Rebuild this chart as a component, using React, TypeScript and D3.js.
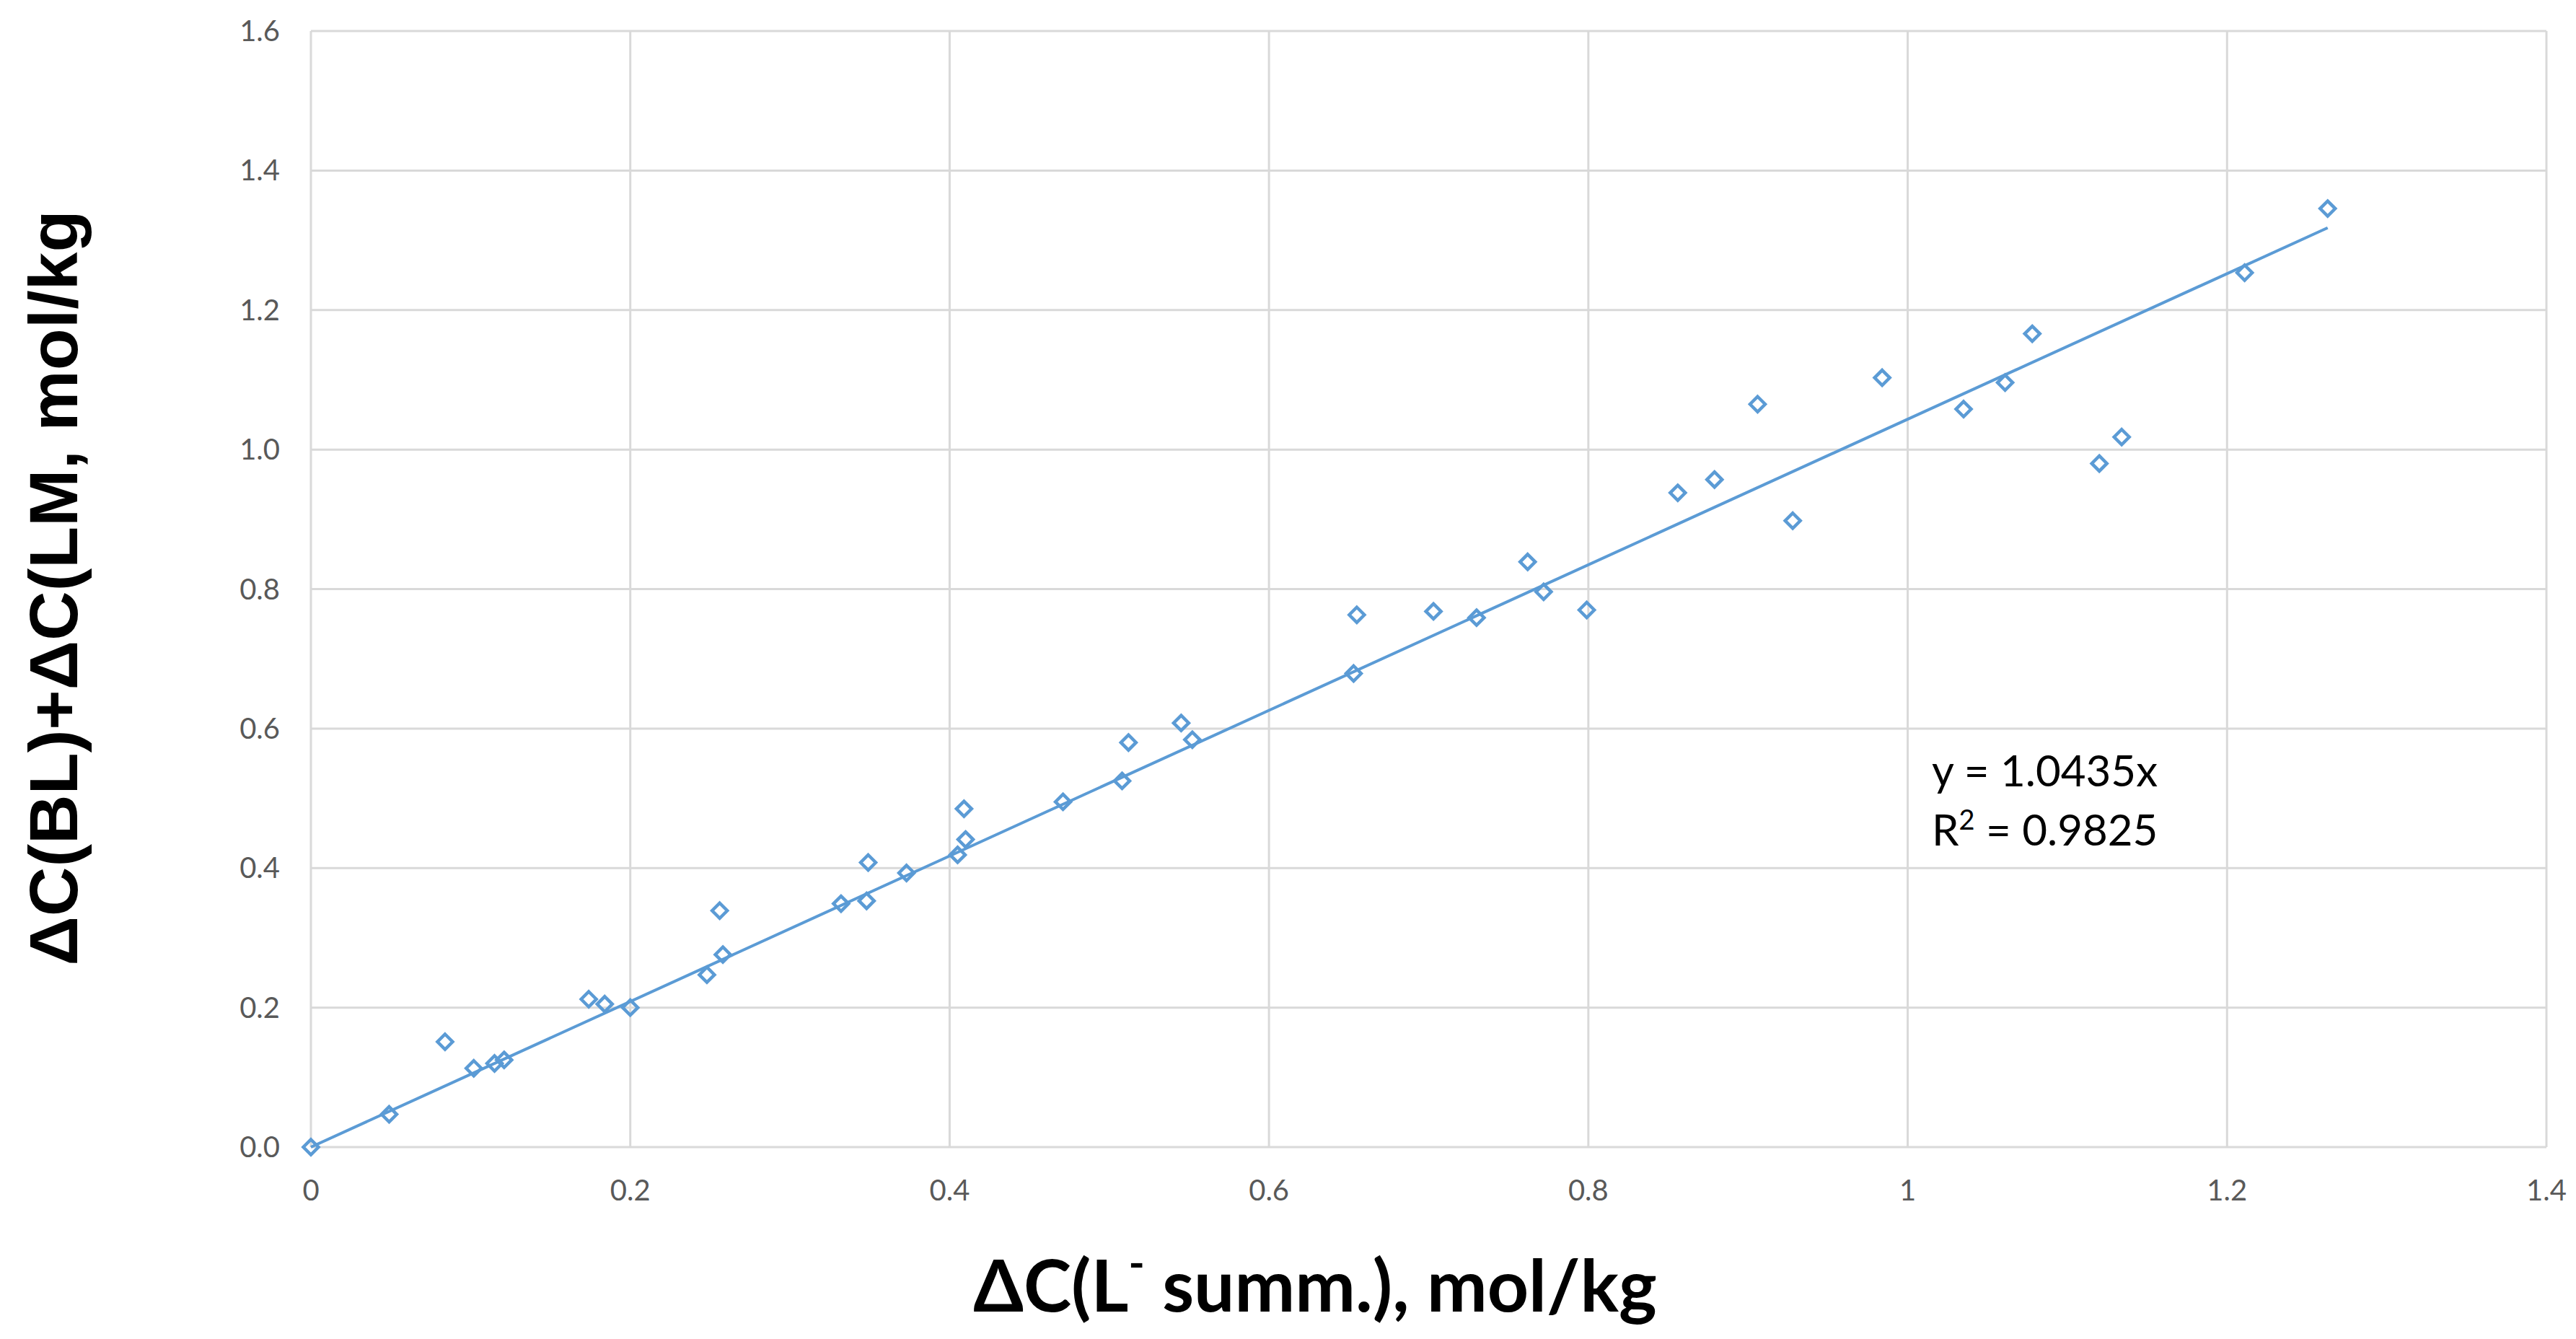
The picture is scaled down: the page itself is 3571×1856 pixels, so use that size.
import React from "react";
import * as d3 from "d3";

// ΔC(L- summ.) values, mol/kg
const xValues = [
  0, 0.049, 0.084, 0.102, 0.115, 0.121, 0.174, 0.184, 0.2, 0.248, 0.256, 0.258,
  0.332, 0.348, 0.349, 0.373, 0.405, 0.409, 0.41, 0.471, 0.508, 0.512, 0.545,
  0.552, 0.653, 0.655, 0.703, 0.73, 0.762, 0.772, 0.799, 0.856, 0.879, 0.906,
  0.928, 0.984, 1.035, 1.061, 1.078, 1.12, 1.134, 1.211, 1.263,
];
// ΔC(BL)+ΔC(LM) values, mol/kg
const yValues = [
  0, 0.047, 0.151, 0.113, 0.12, 0.125, 0.212, 0.205, 0.2, 0.247, 0.339, 0.276,
  0.349, 0.353, 0.408, 0.393, 0.419, 0.485, 0.441, 0.495, 0.525, 0.58, 0.608,
  0.584, 0.679, 0.763, 0.768, 0.759, 0.839, 0.796, 0.77, 0.938, 0.957, 1.065,
  0.898, 1.103, 1.058, 1.096, 1.166, 0.98, 1.018, 1.2535, 1.3455,
];
const slope = 1.0435;
const equationLabel = "y = 1.0435x";
const r2Label = "0.9825";

const xTicks = [0, 0.2, 0.4, 0.6, 0.8, 1, 1.2, 1.4];
const xTickLabels = ["0", "0.2", "0.4", "0.6", "0.8", "1", "1.2", "1.4"];
const yTicks = [0, 0.2, 0.4, 0.6, 0.8, 1.0, 1.2, 1.4, 1.6];
const yTickLabels = ["0.0", "0.2", "0.4", "0.6", "0.8", "1.0", "1.2", "1.4", "1.6"];

const BLUE = "#5B9BD5";
const GRID = "#D9D9D9";
const TICK = "#595959";
const FONT = "Lato, 'Open Sans', sans-serif";

export default function App() {
  const W = 3571;
  const H = 1856;
  const x = d3.scaleLinear().domain([0, 1.4]).range([431, 3530]);
  const y = d3.scaleLinear().domain([0, 1.6]).range([1590, 43]);
  const xMax = d3.max(xValues) as number;
  const trend = d3.line()([
    [x(0), y(0)],
    [x(xMax), y(slope * xMax)],
  ]) as string;
  const r = 10.5;
  const diamond = `M0,${-r}L${r},0L0,${r}L${-r},0Z`;

  return (
    <svg
      width={W}
      height={H}
      style={{ position: "absolute", left: 0, top: 0, background: "#fff" }}
    >
      <rect width={W} height={H} fill="#fff" />
      {/* grid */}
      {yTicks.map((t) => (
        <line key={"gy" + t} x1={x(0)} x2={x(1.4)} y1={y(t)} y2={y(t)} stroke={GRID} strokeWidth={3} />
      ))}
      {xTicks.map((t) => (
        <line key={"gx" + t} x1={x(t)} x2={x(t)} y1={y(0)} y2={y(1.6)} stroke={GRID} strokeWidth={3} />
      ))}
      {/* tick labels */}
      {yTicks.map((t, i) => (
        <text key={"ly" + t} x={388} y={y(t)} dy="0.35em" textAnchor="end" fontFamily={FONT} fontSize={40} fill={TICK}>
          {yTickLabels[i]}
        </text>
      ))}
      {xTicks.map((t, i) => (
        <text key={"lx" + t} x={x(t)} y={1664} textAnchor="middle" fontFamily={FONT} fontSize={40} fill={TICK}>
          {xTickLabels[i]}
        </text>
      ))}
      {/* trendline */}
      <path d={trend} fill="none" stroke={BLUE} strokeWidth={4} />
      {/* points */}
      {xValues.map((v, i) => (
        <path
          key={"p" + i}
          d={diamond}
          transform={`translate(${x(v)},${y(yValues[i])})`}
          fill="none"
          stroke={BLUE}
          strokeWidth={4.5}
        />
      ))}
      {/* equation */}
      <text x={2678} y={1090} fontFamily={FONT} fontSize={60} fill="#000">
        {equationLabel}
      </text>
      <text x={2678} y={1172} fontFamily={FONT} fontSize={60} fill="#000">
        R<tspan dy={-22} fontSize={38}>2</tspan>
        <tspan dy={22}> = {r2Label}</tspan>
      </text>
      {/* x axis title */}
      <text x={1823} y={1818} textAnchor="middle" fontFamily={FONT} fontWeight={700} fontSize={100} fill="#000">
        ΔC(L<tspan dy={-46} fontSize={60}>-</tspan>
        <tspan dy={46}> summ.), mol/kg</tspan>
      </text>
      {/* y axis title */}
      <text
        transform={`translate(107,815) rotate(-90)`}
        textAnchor="middle"
        fontFamily="'Liberation Sans', Arial, sans-serif"
        fontWeight={700}
        fontSize={95}
        fill="#000"
      >
        ΔC(BL)+ΔC(LM, mol/kg
      </text>
    </svg>
  );
}
